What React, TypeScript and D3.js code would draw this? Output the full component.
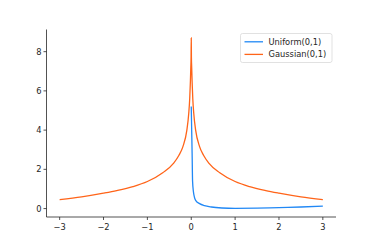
import * as d3 from "d3";

// orange curve, right half (mirrored to the left)
const gaussX = [0, 0.004, 0.01, 0.02, 0.035, 0.057, 0.1, 0.19, 0.28, 0.4, 0.65, 1.0, 1.33, 1.7, 2, 2.5, 3];
const gaussY = [8.7, 7.7, 7.2, 6.45, 5.6, 4.86, 4.0, 3.16, 2.72, 2.32, 1.83, 1.38, 1.12, 0.92, 0.79, 0.6, 0.45];

// blue curve, only for x >= 0
const unifX = [0, 0.01, 0.02, 0.03, 0.05, 0.07, 0.1, 0.19, 0.3, 0.46, 0.7, 1, 1.5, 2, 2.5, 3];
const unifY = [5.2, 4.0, 2.8, 1.4, 0.85, 0.6, 0.42, 0.25, 0.15, 0.08, 0.03, 0.01, 0.02, 0.05, 0.08, 0.12];

const xTicks = [-3, -2, -1, 0, 1, 2, 3];
const yTicks = [0, 2, 4, 6, 8];
const seriesNames = ["Uniform(0,1)", "Gaussian(0,1)"];
const colors = ["#2188f5", "#ff6419"];

export default function App() {
  const W = 374, H = 249;
  const margin = { left: 46.5, right: 38, top: 29.5, bottom: 32 };
  const x = d3.scaleLinear().domain([-3.3, 3.3]).range([margin.left, W - margin.right]);
  const y = d3.scaleLinear().domain([-0.43, 9.13]).range([H - margin.bottom, margin.top]);

  const gauss: [number, number][] = [];
  for (let i = gaussX.length - 1; i > 0; i--) gauss.push([-gaussX[i], gaussY[i]]);
  gaussX.forEach((v, i) => gauss.push([v, gaussY[i]]));
  const unif: [number, number][] = unifX.map((v, i) => [v, unifY[i]]);

  const line = d3
    .line<[number, number]>()
    .x((d) => x(d[0]))
    .y((d) => y(d[1]))
    .curve(d3.curveMonotoneX);

  const font = "DejaVu Sans, sans-serif";
  const fs = 8.3;
  const axisColor = "#262626";
  const x0 = margin.left, y0 = H - margin.bottom;

  return (
    <svg width={W} height={H} style={{ position: "absolute", left: 0, top: 0 }}>
      <rect width={W} height={H} fill="white" />
      <path d={line(unif) ?? ""} fill="none" stroke={colors[0]} strokeWidth={1.3} />
      <path d={line(gauss) ?? ""} fill="none" stroke={colors[1]} strokeWidth={1.3} />

      {/* spines */}
      <line x1={x0} x2={x0} y1={margin.top} y2={y0} stroke={axisColor} strokeWidth={0.8} />
      <line x1={x0} x2={W - margin.right} y1={y0} y2={y0} stroke={axisColor} strokeWidth={0.8} />

      {xTicks.map((t) => (
        <g key={"x" + t}>
          <line x1={x(t)} x2={x(t)} y1={y0} y2={y0 + 3} stroke={axisColor} strokeWidth={0.8} />
          <text x={x(t)} y={y0 + 12.5} textAnchor="middle" fontFamily={font} fontSize={fs} fill={axisColor}>
            {t < 0 ? "\u2212" + Math.abs(t) : t}
          </text>
        </g>
      ))}
      {yTicks.map((t) => (
        <g key={"y" + t}>
          <line x1={x0 - 3} x2={x0} y1={y(t)} y2={y(t)} stroke={axisColor} strokeWidth={0.8} />
          <text x={x0 - 5} y={y(t) + 3} textAnchor="end" fontFamily={font} fontSize={fs} fill={axisColor}>
            {t}
          </text>
        </g>
      ))}

      {/* legend */}
      <g transform="translate(240.5,33.5)">
        <rect width={91.5} height={29} rx={2} fill="white" fillOpacity={0.8} stroke="#d9d9d9" strokeWidth={0.8} />
        {seriesNames.map((name, i) => (
          <g key={name} transform={`translate(0,${8.3 + i * 12.6})`}>
            <line x1={4} x2={22.5} y1={0} y2={0} stroke={colors[i]} strokeWidth={1.3} />
            <text x={28} y={3} fontFamily={font} fontSize={fs} fill={axisColor}>
              {name}
            </text>
          </g>
        ))}
      </g>
    </svg>
  );
}
